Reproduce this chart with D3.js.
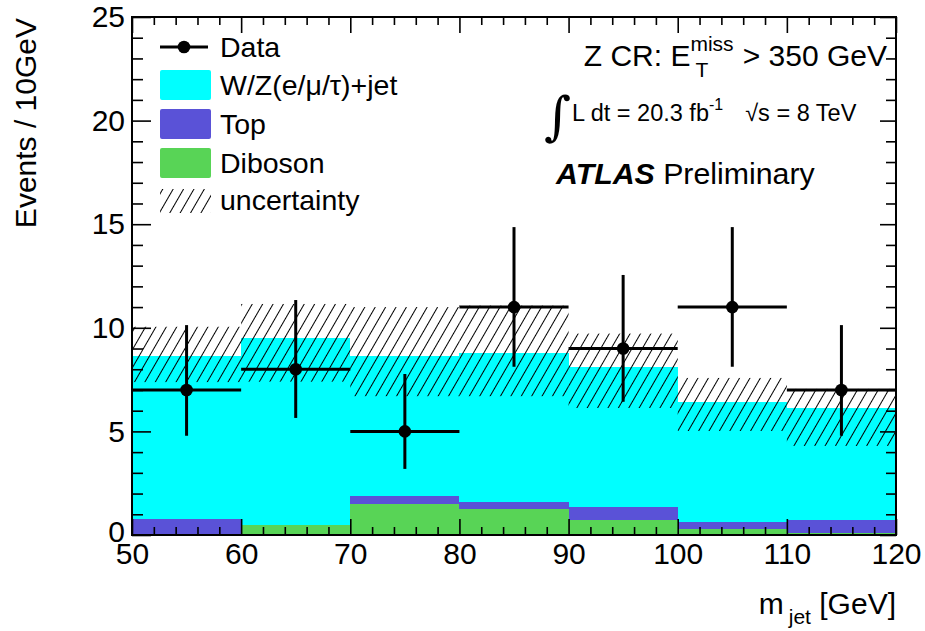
<!DOCTYPE html>
<html><head><meta charset="utf-8">
<script src="https://cdn.jsdelivr.net/npm/d3@7/dist/d3.min.js"></script>
<style>body{margin:0;background:#fff}svg{display:block;font-family:"Liberation Sans",Arial,sans-serif}</style>
</head><body><svg id="c" width="925" height="631"></svg>
<script>
const binEdges = [50,60,70,80,90,100,110,120];
const diboson = [0.05,0.48,1.48,1.25,0.72,0.29,0.08];
const top_ = [0.71,0.0,0.40,0.36,0.65,0.35,0.64];
const wzjet = [7.88,9.04,6.76,7.19,6.75,5.79,5.42];
const uncLow = [7.38,7.40,6.70,6.70,6.13,5.02,4.30];
const uncHigh = [10.05,11.15,11.00,11.07,9.72,7.58,7.05];
const dataVals = [7,8,5,11,9,11,7];
const dataHi = [10.13,11.34,7.77,14.86,12.55,14.86,10.13];
const dataLo = [4.79,5.65,3.19,8.12,6.43,8.12,4.79];
const xTicks = [50,60,70,80,90,100,110,120];
const yTicks = [0,5,10,15,20,25];
const legendLabels = ["Data","W/Z(e/\u03bc/\u03c4)+jet","Top","Diboson","uncertainty"];
const colors = {wz:"#00ffff", top:"#5a52d7", dib:"#58d456"};

const svg = d3.select("#c");
const L=132,R=896,T=17,B=535;
const x = d3.scaleLinear().domain([50,120]).range([L,R]);
const y = d3.scaleLinear().domain([0,25]).range([B,T]);

const defs = svg.append("defs");
const pat = defs.append("pattern").attr("id","hatch").attr("patternUnits","userSpaceOnUse")
  .attr("width",9).attr("height",9).attr("patternTransform","rotate(30)");
pat.append("line").attr("x1",1).attr("y1",-1).attr("x2",1).attr("y2",10).attr("stroke","#000").attr("stroke-width",1)
  .attr("shape-rendering","crispEdges");

const bins = d3.range(7).map(i=>({i,x0:binEdges[i],x1:binEdges[i+1],
  dib:diboson[i], top:diboson[i]+top_[i], wz:diboson[i]+top_[i]+wzjet[i]}));

const g = svg.append("g");
g.selectAll(".wz").data(bins).join("rect").attr("x",d=>x(d.x0)).attr("width",d=>x(d.x1)-x(d.x0))
  .attr("y",d=>y(d.wz)).attr("height",d=>y(0)-y(d.wz)).attr("fill",colors.wz).attr("shape-rendering","crispEdges");
g.selectAll(".tp").data(bins).join("rect").attr("x",d=>x(d.x0)).attr("width",d=>x(d.x1)-x(d.x0))
  .attr("y",d=>y(d.top)).attr("height",d=>y(0)-y(d.top)).attr("fill",colors.top).attr("shape-rendering","crispEdges");
g.selectAll(".db").data(bins).join("rect").attr("x",d=>x(d.x0)).attr("width",d=>x(d.x1)-x(d.x0))
  .attr("y",d=>y(d.dib)).attr("height",d=>y(0)-y(d.dib)).attr("fill",colors.dib).attr("shape-rendering","crispEdges");
g.selectAll(".unc").data(bins).join("rect").attr("x",d=>x(d.x0)).attr("width",d=>x(d.x1)-x(d.x0))
  .attr("y",d=>y(uncHigh[d.i])).attr("height",d=>y(uncLow[d.i])-y(uncHigh[d.i])).attr("fill","url(#hatch)");

const dg = g.append("g").attr("stroke","#000").attr("stroke-width",3);
bins.forEach(d=>{
  const cx = x((d.x0+d.x1)/2);
  dg.append("line").attr("x1",x(d.x0)).attr("x2",x(d.x1)).attr("y1",y(dataVals[d.i])).attr("y2",y(dataVals[d.i]));
  dg.append("line").attr("x1",cx).attr("x2",cx).attr("y1",y(dataHi[d.i])).attr("y2",y(dataLo[d.i]));
  dg.append("circle").attr("cx",cx).attr("cy",y(dataVals[d.i])).attr("r",6.3).attr("fill","#000").attr("stroke","none");
});

function styleAxis(sel){ sel.select(".domain").remove(); sel.selectAll("line").attr("stroke","#000").attr("stroke-width",1.6);
  sel.selectAll("text").attr("font-size",30).attr("font-family","Liberation Sans, Arial, sans-serif").attr("fill","#000"); }
const xMinor = d3.range(50,121,2).filter(v=>v%10!==0);
const yMinor = d3.range(0,25.1,1).filter(v=>v%5!==0);
svg.append("g").attr("transform",`translate(0,${B})`).call(d3.axisBottom(x).tickValues(xTicks).tickSize(-16).tickPadding(8).tickFormat(d3.format("d"))).call(styleAxis);
svg.append("g").attr("transform",`translate(0,${B})`).call(d3.axisBottom(x).tickValues(xMinor).tickSize(-8).tickFormat("")).call(styleAxis);
svg.append("g").attr("transform",`translate(0,${T})`).call(d3.axisTop(x).tickValues(xTicks).tickSize(-16).tickFormat("")).call(styleAxis);
svg.append("g").attr("transform",`translate(0,${T})`).call(d3.axisTop(x).tickValues(xMinor).tickSize(-8).tickFormat("")).call(styleAxis);
const yAx = svg.append("g").attr("transform",`translate(${L},0)`).call(d3.axisLeft(y).tickValues(yTicks).tickSize(-19).tickPadding(7).tickFormat(d3.format("d"))).call(styleAxis);
yAx.selectAll(".tick text").filter(d=>d===0).attr("dy","0.2em");
svg.append("g").attr("transform",`translate(${L},0)`).call(d3.axisLeft(y).tickValues(yMinor).tickSize(-11).tickFormat("")).call(styleAxis);
svg.append("g").attr("transform",`translate(${R},0)`).call(d3.axisRight(y).tickValues(yTicks).tickSize(-16).tickFormat("")).call(styleAxis);
svg.append("g").attr("transform",`translate(${R},0)`).call(d3.axisRight(y).tickValues(yMinor).tickSize(-10).tickFormat("")).call(styleAxis);
svg.append("rect").attr("x",L).attr("y",T).attr("width",R-L).attr("height",B-T).attr("fill","none").attr("stroke","#000").attr("stroke-width",2);

svg.append("text").attr("transform",`translate(36,${T+1}) rotate(-90)`).attr("text-anchor","end").attr("font-size",30).text("Events / 10GeV");
const xt = svg.append("text").attr("x",R).attr("y",614).attr("text-anchor","end").attr("font-size",30);
xt.append("tspan").text("m");
xt.append("tspan").attr("dx",5).attr("dy",10).attr("font-size",21).text("jet");
xt.append("tspan").attr("dy",-10).text(" [GeV]");

const lg = svg.append("g");
const lx0=162, lx1=210, ty=[47,85,124,163,200];
lg.append("line").attr("x1",lx0-2).attr("x2",lx1-2).attr("y1",ty[0]).attr("y2",ty[0]).attr("stroke","#000").attr("stroke-width",3);
lg.append("circle").attr("cx",(lx0+lx1)/2-2).attr("cy",ty[0]).attr("r",6.3);
[[colors.wz,1],[colors.top,2],[colors.dib,3]].forEach(([c,i])=>{
  lg.append("rect").attr("x",lx0-2).attr("y",ty[i]-15).attr("width",lx1-lx0+3).attr("height",30).attr("rx",2).attr("fill",c);
});
lg.append("rect").attr("x",lx0-2).attr("y",ty[4]-11).attr("width",lx1-lx0+3).attr("height",24).attr("fill","url(#hatch)");
legendLabels.forEach((t,i)=>{
  lg.append("text").attr("x",220).attr("y",ty[i]+10).attr("font-size",28.5).text(t);
});

const a1 = svg.append("text").attr("x",887).attr("y",66).attr("text-anchor","end").attr("font-size",30);
a1.append("tspan").text("Z CR: E");
a1.append("tspan").attr("font-size",21).attr("dy",-15).text("miss");
a1.append("tspan").attr("font-size",21).attr("dx",-38).attr("dy",26).text("T");
a1.append("tspan").attr("dx",26).attr("dy",-11).text(" > 350 GeV");

svg.append("text").attr("x",544).attr("y",134).attr("font-size",52).attr("font-family","DejaVu Serif, serif").text("\u222b");
const a2 = svg.append("text").attr("x",572).attr("y",121).attr("font-size",23.5);
a2.append("tspan").text("L dt = 20.3 fb");
a2.append("tspan").attr("font-size",16).attr("dy",-11).text("-1");
a2.append("tspan").attr("dx",22).attr("dy",11).text("\u221as = 8 TeV");

const a3 = svg.append("text").attr("x",556).attr("y",184).attr("font-size",30.3);
a3.append("tspan").attr("font-weight","bold").attr("font-style","italic").text("ATLAS");
a3.append("tspan").text(" Preliminary");
</script></body></html>
